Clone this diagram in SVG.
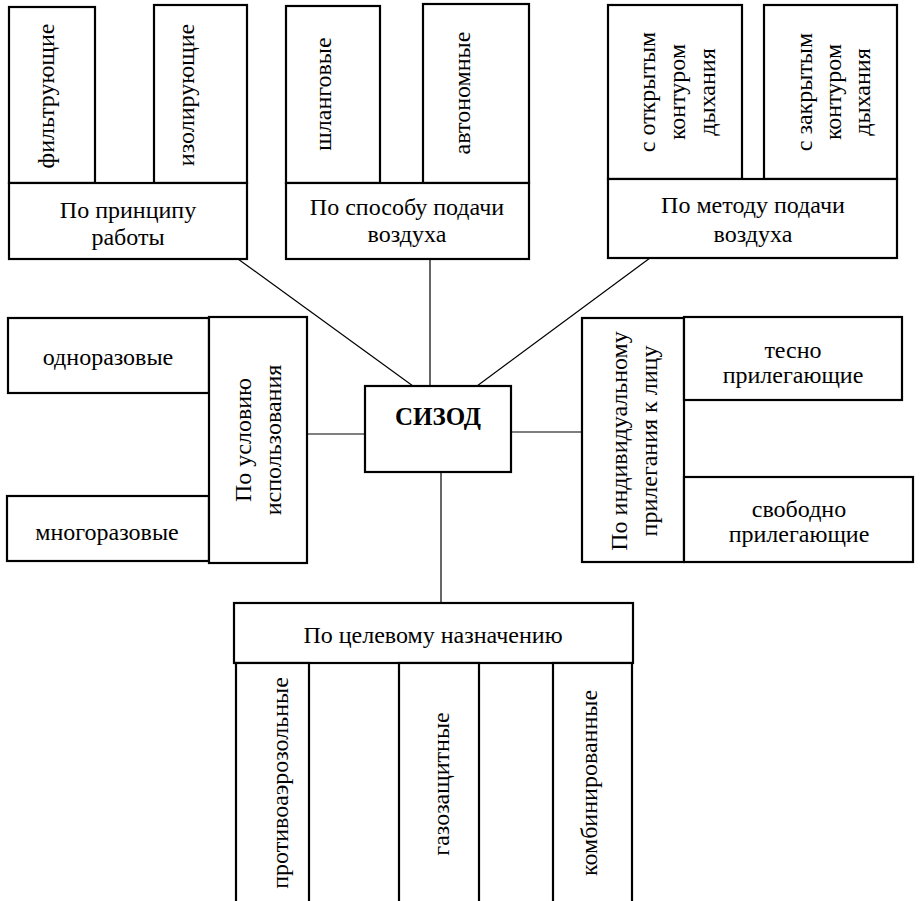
<svg xmlns="http://www.w3.org/2000/svg" width="920" height="901" viewBox="0 0 920 901">
<rect width="920" height="901" fill="#fff"/>
<g id="connectors" stroke="#000" stroke-width="1.2" fill="none">
<line x1="238" y1="259" x2="413" y2="386"/>
<line x1="430" y1="259" x2="430" y2="386"/>
<line x1="650" y1="258" x2="477" y2="386"/>
<line x1="307" y1="434" x2="365" y2="434"/>
<line x1="511" y1="432" x2="582" y2="432"/>
<line x1="441" y1="472" x2="441" y2="603"/>
</g>
<g id="n-filtr"><rect fill="#fff" stroke="#000" stroke-width="2.2" x="9" y="7" width="86" height="176"/><text font-family="Times New Roman" font-size="24" text-anchor="middle" transform="translate(54,96) rotate(-90)">фильтрующие</text></g>
<g id="n-izol"><rect fill="#fff" stroke="#000" stroke-width="2.2" x="154" y="5" width="93" height="178"/><text font-family="Times New Roman" font-size="24" text-anchor="middle" transform="translate(194,95) rotate(-90)">изолирующие</text></g>
<g id="n-princip"><rect fill="#fff" stroke="#000" stroke-width="2.2" x="9" y="183" width="238" height="76"/><text font-family="Times New Roman" font-size="24" text-anchor="middle" x="128" y="218">По принципу</text><text font-family="Times New Roman" font-size="24" text-anchor="middle" x="128" y="245">работы</text></g>
<g id="n-shlang"><rect fill="#fff" stroke="#000" stroke-width="2.2" x="286" y="6" width="94" height="177"/><text font-family="Times New Roman" font-size="24" text-anchor="middle" transform="translate(331,94) rotate(-90)">шланговые</text></g>
<g id="n-avto"><rect fill="#fff" stroke="#000" stroke-width="2.2" x="423" y="4" width="106" height="179"/><text font-family="Times New Roman" font-size="24" text-anchor="middle" transform="translate(470,93) rotate(-90)">автономные</text></g>
<g id="n-sposob"><rect fill="#fff" stroke="#000" stroke-width="2.2" x="286" y="183" width="243" height="76"/><text font-family="Times New Roman" font-size="24" text-anchor="middle" x="407" y="215">По способу подачи</text><text font-family="Times New Roman" font-size="24" text-anchor="middle" x="407" y="242">воздуха</text></g>
<g id="n-otkr"><rect fill="#fff" stroke="#000" stroke-width="2.2" x="608" y="5" width="134" height="174"/><text font-family="Times New Roman" font-size="24" text-anchor="middle" transform="translate(655,92) rotate(-90)"><tspan x="0" y="0">с открытым</tspan><tspan x="0" y="30">контуром</tspan><tspan x="0" y="60">дыхания</tspan></text></g>
<g id="n-zakr"><rect fill="#fff" stroke="#000" stroke-width="2.2" x="764" y="5" width="133" height="174"/><text font-family="Times New Roman" font-size="24" text-anchor="middle" transform="translate(812,92) rotate(-90)"><tspan x="0" y="0">с закрытым</tspan><tspan x="0" y="29">контуром</tspan><tspan x="0" y="58">дыхания</tspan></text></g>
<g id="n-metod"><rect fill="#fff" stroke="#000" stroke-width="2.2" x="608" y="179" width="289" height="79"/><text font-family="Times New Roman" font-size="24" text-anchor="middle" x="753" y="213">По методу подачи</text><text font-family="Times New Roman" font-size="24" text-anchor="middle" x="753" y="242">воздуха</text></g>
<g id="n-odno"><rect fill="#fff" stroke="#000" stroke-width="2.2" x="8" y="318" width="201" height="75"/><text font-family="Times New Roman" font-size="24" text-anchor="middle" x="108" y="365">одноразовые</text></g>
<g id="n-mnogo"><rect fill="#fff" stroke="#000" stroke-width="2.2" x="7" y="496" width="202" height="65"/><text font-family="Times New Roman" font-size="24" text-anchor="middle" x="107" y="540">многоразовые</text></g>
<g id="n-uslov"><rect fill="#fff" stroke="#000" stroke-width="2.2" x="209" y="317" width="98" height="246"/><text font-family="Times New Roman" font-size="24" text-anchor="middle" transform="translate(251,440) rotate(-90)"><tspan x="0" y="0">По условию</tspan><tspan x="0" y="30">использования</tspan></text></g>
<g id="n-sizod"><rect fill="#fff" stroke="#000" stroke-width="2.2" x="365" y="386" width="146" height="86"/><text font-family="Times New Roman" font-size="25" font-weight="bold" text-anchor="middle" x="438" y="425">СИЗОД</text></g>
<g id="n-indiv"><rect fill="#fff" stroke="#000" stroke-width="2.2" x="582" y="318" width="102" height="244"/><text font-family="Times New Roman" font-size="24" text-anchor="middle" transform="translate(627,441) rotate(-90)"><tspan x="0" y="0">По индивидуальному</tspan><tspan x="0" y="30">прилегания к лицу</tspan></text></g>
<g id="n-tesno"><rect fill="#fff" stroke="#000" stroke-width="2.2" x="684" y="317" width="218" height="83"/><text font-family="Times New Roman" font-size="24" text-anchor="middle" x="793" y="358">тесно</text><text font-family="Times New Roman" font-size="24" text-anchor="middle" x="793" y="383">прилегающие</text></g>
<g id="n-svob"><rect fill="#fff" stroke="#000" stroke-width="2.2" x="684" y="477" width="229" height="85"/><text font-family="Times New Roman" font-size="24" text-anchor="middle" x="799" y="517">свободно</text><text font-family="Times New Roman" font-size="24" text-anchor="middle" x="799" y="542">прилегающие</text></g>
<g id="n-celevoe"><rect fill="#fff" stroke="#000" stroke-width="2.2" x="234" y="603" width="399" height="60"/><text font-family="Times New Roman" font-size="24" text-anchor="middle" x="433" y="643">По целевому назначению</text></g>
<g id="n-protivo"><rect fill="#fff" stroke="#000" stroke-width="2.2" x="236" y="663" width="73" height="250"/><text font-family="Times New Roman" font-size="24" text-anchor="middle" transform="translate(288,783) rotate(-90)">противоаэрозольные</text></g>
<g id="n-gazo"><rect fill="#fff" stroke="#000" stroke-width="2.2" x="399" y="663" width="80" height="250"/><text font-family="Times New Roman" font-size="24" text-anchor="middle" transform="translate(449,784) rotate(-90)">газозащитные</text></g>
<g id="n-komb"><rect fill="#fff" stroke="#000" stroke-width="2.2" x="553" y="663" width="79" height="250"/><text font-family="Times New Roman" font-size="24" text-anchor="middle" transform="translate(597,783) rotate(-90)">комбинированные</text></g>
</svg>
